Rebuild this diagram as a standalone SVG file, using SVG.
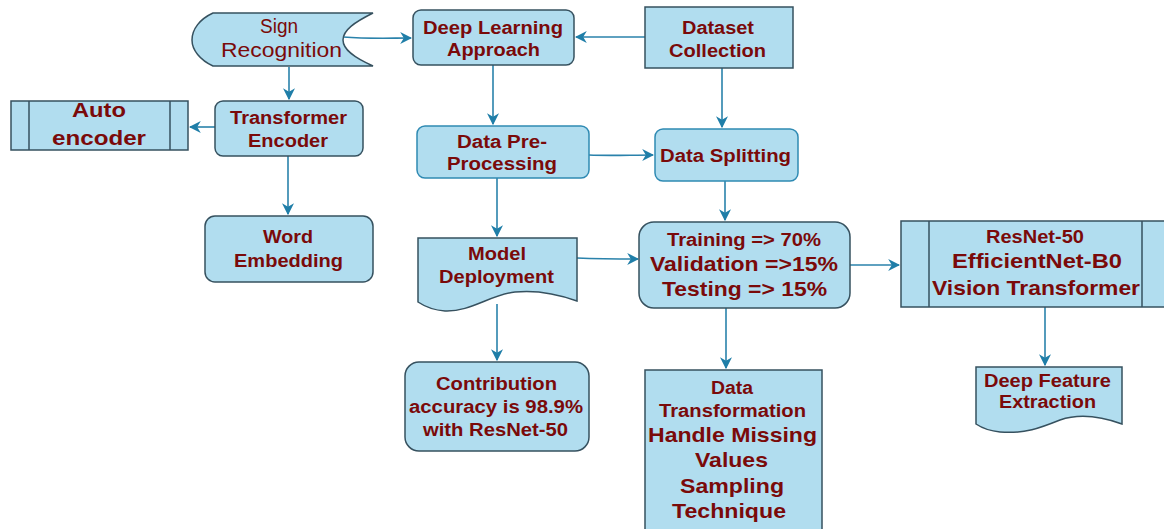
<svg xmlns="http://www.w3.org/2000/svg" width="1164" height="529" viewBox="0 0 1164 529">
<style>
.n{fill:#b1ddef;stroke:#36515f;stroke-width:1.5}
.nb{fill:#b1ddef;stroke:#2f8ab3;stroke-width:1.5}
.t{font-family:"Liberation Sans",Arial,sans-serif;font-weight:bold;fill:#7a0a0a;text-anchor:middle}
.r{font-weight:normal;font-size:20px}
.s17{font-size:18px}
.s21{font-size:21px}
.c{fill:none;stroke:#2a82ab;stroke-width:1.6}
</style>
<defs>
<marker id="a" viewBox="0 0 10 10" refX="9" refY="5" markerWidth="12" markerHeight="12" markerUnits="userSpaceOnUse" orient="auto">
<path d="M0,0 L10,5 L0,10 L3,5 Z" fill="#1f7ea8"/>
</marker>
</defs>
<rect width="1164" height="529" fill="#ffffff"/>
<g id="connectors">
<path class="c" d="M343,37 C370,39 390,38 411,38" marker-end="url(#a)"/>
<path class="c" d="M645,37 H576" marker-end="url(#a)"/>
<path class="c" d="M289,67 V99" marker-end="url(#a)"/>
<path class="c" d="M215,127 H190" marker-end="url(#a)"/>
<path class="c" d="M288,156 V214" marker-end="url(#a)"/>
<path class="c" d="M493,65 V124" marker-end="url(#a)"/>
<path class="c" d="M722,68 V127" marker-end="url(#a)"/>
<path class="c" d="M589,155 C610,156 630,155 653,155" marker-end="url(#a)"/>
<path class="c" d="M497,178 V236" marker-end="url(#a)"/>
<path class="c" d="M577,258 C600,259 615,259 638,259" marker-end="url(#a)"/>
<path class="c" d="M725,181 V220" marker-end="url(#a)"/>
<path class="c" d="M497,304 V360" marker-end="url(#a)"/>
<path class="c" d="M726,308 V368" marker-end="url(#a)"/>
<path class="c" d="M850,265 H899" marker-end="url(#a)"/>
<path class="c" d="M1045,307 V365" marker-end="url(#a)"/>
</g>
<g id="sign-recognition">
<path class="n" d="M213,13 H373 C355,22 343,30 343,40 C343,50 355,58 373,66 H213 C200,60 192,50 192,40 C192,29 200,19 213,13 Z"/>
<text class="t r" x="279" y="33" textLength="38" lengthAdjust="spacingAndGlyphs">Sign</text>
<text class="t r" x="281.5" y="57" textLength="121" lengthAdjust="spacingAndGlyphs">Recognition</text>
</g>
<g id="deep-learning">
<rect class="n" x="413" y="10" width="161" height="55" rx="8"/>
<text class="t s17" x="493" y="34" textLength="140" lengthAdjust="spacingAndGlyphs">Deep Learning</text>
<text class="t s17" x="493.5" y="56" textLength="93" lengthAdjust="spacingAndGlyphs">Approach</text>
</g>
<g id="dataset-collection">
<rect class="n" x="645" y="7" width="148" height="61"/>
<text class="t s17" x="718" y="34" textLength="72" lengthAdjust="spacingAndGlyphs">Dataset</text>
<text class="t s17" x="717.5" y="57" textLength="97" lengthAdjust="spacingAndGlyphs">Collection</text>
</g>
<g id="transformer-encoder">
<rect class="n" x="215" y="101" width="148" height="55" rx="8"/>
<text class="t s17" x="288.5" y="124" textLength="117" lengthAdjust="spacingAndGlyphs">Transformer</text>
<text class="t s17" x="288" y="147" textLength="80" lengthAdjust="spacingAndGlyphs">Encoder</text>
</g>
<g id="auto-encoder">
<rect class="n" x="11" y="101" width="177" height="49"/>
<line class="n" x1="29" y1="101" x2="29" y2="150"/>
<line class="n" x1="170" y1="101" x2="170" y2="150"/>
<text class="t" x="99" y="117" font-size="21" textLength="54" lengthAdjust="spacingAndGlyphs">Auto</text>
<text class="t" x="99" y="145" font-size="21" textLength="94" lengthAdjust="spacingAndGlyphs">encoder</text>
</g>
<g id="word-embedding">
<rect class="n" x="205" y="216" width="168" height="66" rx="10"/>
<text class="t s17" x="288" y="243" textLength="50" lengthAdjust="spacingAndGlyphs">Word</text>
<text class="t s17" x="288.5" y="267" textLength="109" lengthAdjust="spacingAndGlyphs">Embedding</text>
</g>
<g id="data-preprocessing">
<rect class="nb" x="417" y="126" width="172" height="52" rx="8"/>
<text class="t s17" x="502" y="148" textLength="90" lengthAdjust="spacingAndGlyphs">Data Pre-</text>
<text class="t s17" x="502" y="170" textLength="110" lengthAdjust="spacingAndGlyphs">Processing</text>
</g>
<g id="data-splitting">
<rect class="nb" x="655" y="129" width="143" height="52" rx="8"/>
<text class="t s17" x="725.5" y="162" textLength="131" lengthAdjust="spacingAndGlyphs">Data Splitting</text>
</g>
<g id="model-deployment">
<path class="n" d="M418,238 H577 V301 C555,293 535,290 515,292 C490,295 470,312 445,311 C432,310 424,306 418,302 Z"/>
<text class="t s17" x="497" y="260" textLength="58" lengthAdjust="spacingAndGlyphs">Model</text>
<text class="t s17" x="496.5" y="283" textLength="115" lengthAdjust="spacingAndGlyphs">Deployment</text>
</g>
<g id="training-split">
<rect class="n" x="639" y="222" width="211" height="86" rx="15"/>
<text class="t s17" x="744" y="246" textLength="154" lengthAdjust="spacingAndGlyphs">Training =&gt; 70%</text>
<text class="t s21" x="744" y="271" textLength="188" lengthAdjust="spacingAndGlyphs">Validation =&gt;15%</text>
<text class="t s21" x="744.5" y="296" textLength="165" lengthAdjust="spacingAndGlyphs">Testing =&gt; 15%</text>
</g>
<g id="contribution">
<rect class="n" x="405" y="362" width="184" height="89" rx="14"/>
<text class="t s17" x="496.5" y="390" textLength="121" lengthAdjust="spacingAndGlyphs">Contribution</text>
<text class="t s17" x="496" y="413" textLength="174" lengthAdjust="spacingAndGlyphs">accuracy is 98.9%</text>
<text class="t s17" x="495.5" y="436" textLength="145" lengthAdjust="spacingAndGlyphs">with ResNet-50</text>
</g>
<g id="data-transformation">
<rect class="n" x="645" y="370" width="177" height="170"/>
<text class="t s17" x="732" y="394" textLength="42" lengthAdjust="spacingAndGlyphs">Data</text>
<text class="t s17" x="732.5" y="417" textLength="147" lengthAdjust="spacingAndGlyphs">Transformation</text>
<text class="t s21" x="732.5" y="442" textLength="169" lengthAdjust="spacingAndGlyphs">Handle Missing</text>
<text class="t s21" x="731.5" y="467" textLength="73" lengthAdjust="spacingAndGlyphs">Values</text>
<text class="t s21" x="732" y="493" textLength="104" lengthAdjust="spacingAndGlyphs">Sampling</text>
<text class="t s21" x="729" y="518" textLength="114" lengthAdjust="spacingAndGlyphs">Technique</text>
</g>
<g id="models">
<rect class="n" x="901" y="221" width="275" height="86"/>
<line class="n" x1="929" y1="221" x2="929" y2="307"/>
<line class="n" x1="1142" y1="221" x2="1142" y2="307"/>
<text class="t s17" x="1035" y="243" textLength="98" lengthAdjust="spacingAndGlyphs">ResNet-50</text>
<text class="t s21" x="1037" y="268" textLength="170" lengthAdjust="spacingAndGlyphs">EfficientNet-B0</text>
<text class="t s21" x="1036" y="295" textLength="208" lengthAdjust="spacingAndGlyphs">Vision Transformer</text>
</g>
<g id="deep-feature-extraction">
<path class="n" d="M976,367 H1122 V424 C1100,416 1080,413 1060,420 C1040,428 1025,434 1000,432 C990,431 982,428 976,424 Z"/>
<text class="t s17" x="1047.5" y="387" textLength="127" lengthAdjust="spacingAndGlyphs">Deep Feature</text>
<text class="t s17" x="1047.5" y="408" textLength="97" lengthAdjust="spacingAndGlyphs">Extraction</text>
</g>
</svg>
